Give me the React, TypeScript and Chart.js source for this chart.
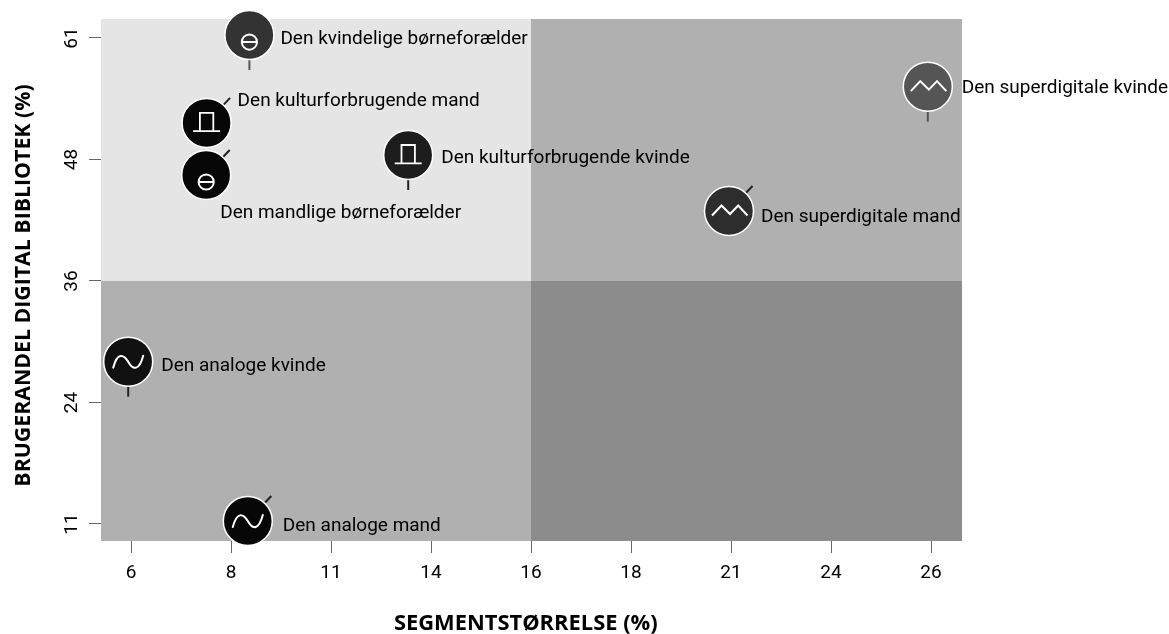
import React, { useEffect, useRef } from "react";
import { Chart, registerables } from "chart.js";

Chart.register(...registerables);

const segments = [
  "Den kvindelige børneforælder",
  "Den kulturforbrugende mand",
  "Den mandlige børneforælder",
  "Den kulturforbrugende kvinde",
  "Den superdigitale kvinde",
  "Den superdigitale mand",
  "Den analoge kvinde",
  "Den analoge mand",
];
const segmentSize = [8.96, 7.89, 7.88, 12.93, 25.92, 20.95, 5.93, 8.92];
const digitalShare = [61.3, 52.26, 46.9, 48.96, 55.99, 43.2, 27.7, 11.31];
const glyphs = ["minus", "hat", "minus", "hat", "zigzag", "zigzag", "sine", "sine"];
const leaders = ["down", "diag", "diag", "down", "down", "diag", "down", "diag"];
const fills = ["#333333", "#070707", "#070707", "#1d1d1d", "#555555", "#2d2d2d", "#111111", "#070707"];
const xTickValues = [6, 8.5, 11, 13.5, 16, 18.5, 21, 23.5, 26];
const xTickLabels = ["6", "8", "11", "14", "16", "18", "21", "24", "26"];
const yTickValues = [11, 23.5, 36, 48.5, 61];
const yTickLabels = ["11", "24", "36", "48", "61"];
const xSplit = 16;
const ySplit = 36;

const labelOffsets = [
  [31, 4], [31, -22], [14, 38], [33, 3], [34, 2], [32, 6], [33, 5], [35, 5],
];

const FONT = "Roboto, sans-serif";
const TITLE_FONT = "'Open Sans', sans-serif";

function drawGlyph(ctx: CanvasRenderingContext2D, kind: string, x: number, y: number) {
  ctx.save();
  ctx.translate(x, y);
  ctx.strokeStyle = "#ffffff";
  ctx.lineWidth = 1.8;
  ctx.lineJoin = "miter";
  ctx.beginPath();
  if (kind === "hat") {
    ctx.moveTo(-13.5, 8.3);
    ctx.lineTo(13.5, 8.3);
    ctx.moveTo(-6.7, 8.3);
    ctx.lineTo(-6.7, -10);
    ctx.lineTo(6.7, -10);
    ctx.lineTo(6.7, 8.3);
  } else if (kind === "minus") {
    ctx.lineWidth = 2;
    ctx.arc(0, 7, 7.6, 0, Math.PI * 2);
    ctx.moveTo(-7.6, 7);
    ctx.lineTo(7.6, 7);
  } else if (kind === "zigzag") {
    ctx.lineWidth = 2;
    ctx.moveTo(-17, 4.5);
    ctx.lineTo(-7.5, -5.5);
    ctx.lineTo(1, 3);
    ctx.lineTo(9.2, -5.5);
    ctx.lineTo(18.5, 4.5);
  } else {
    ctx.lineWidth = 2;
    ctx.lineCap = "round";
    ctx.moveTo(-15, 6);
    ctx.bezierCurveTo(-11, -9, -5, -8, 0, 0);
    ctx.bezierCurveTo(5, 9, 11, 9, 15, -6);
  }
  ctx.stroke();
  ctx.restore();
}

const quadrantPlugin = {
  id: "quadrants",
  beforeDraw(chart: any) {
    const { ctx, chartArea: a, scales } = chart;
    const mx = scales.x.getPixelForValue(xSplit);
    const my = scales.y.getPixelForValue(ySplit);
    ctx.save();
    ctx.fillStyle = "#e5e5e5";
    ctx.fillRect(a.left, a.top, mx - a.left, my - a.top);
    ctx.fillStyle = "#b0b0b0";
    ctx.fillRect(mx, a.top, a.right - mx, my - a.top);
    ctx.fillRect(a.left, my, mx - a.left, a.bottom - my);
    ctx.fillStyle = "#8c8c8c";
    ctx.fillRect(mx, my, a.right - mx, a.bottom - my);
    ctx.restore();
  },
  beforeDatasetsDraw(chart: any) {
    const { ctx } = chart;
    const pts = chart.getDatasetMeta(0).data;
    ctx.save();
    pts.forEach((p: any, i: number) => {
      ctx.strokeStyle = fills[i] === "#555555" || fills[i] === "#333333" ? "#555555" : "#222222";
      ctx.lineWidth = 2;
      ctx.beginPath();
      if (leaders[i] === "down") {
        ctx.moveTo(p.x, p.y + 20);
        ctx.lineTo(p.x, p.y + 35);
      } else {
        ctx.moveTo(p.x + 14, p.y - 15);
        ctx.lineTo(p.x + 23.5, p.y - 25);
      }
      ctx.stroke();
    });
    ctx.restore();
  },
  afterDatasetsDraw(chart: any) {
    const { ctx } = chart;
    const pts = chart.getDatasetMeta(0).data;
    ctx.save();
    ctx.fillStyle = "#000000";
    ctx.font = `19px ${FONT}`;
    ctx.textAlign = "left";
    ctx.textBaseline = "middle";
    pts.forEach((p: any, i: number) => {
      drawGlyph(ctx, glyphs[i], p.x, p.y);
      ctx.fillText(segments[i], p.x + labelOffsets[i][0], p.y + labelOffsets[i][1]);
    });
    ctx.restore();
  },
};

export default function App() {
  const ref = useRef<HTMLCanvasElement>(null);
  useEffect(() => {
    document.body.style.margin = "0";
    const chart = new Chart(ref.current!, {
      type: "scatter",
      data: {
        labels: segments,
        datasets: [
          {
            label: "Segmenter",
            data: segmentSize.map((x, i) => ({ x, y: digitalShare[i] })),
            backgroundColor: fills,
            borderColor: "#ffffff",
            borderWidth: 1.5,
            pointRadius: 24.5,
            pointHoverRadius: 24.5,
            clip: false as any,
          },
        ],
      },
      options: {
        responsive: false,
        animation: false,
        events: [],
        layout: { autoPadding: false, padding: { top: 19, right: 207, left: 0, bottom: 0 } },
        plugins: { legend: { display: false }, tooltip: { enabled: false } },
        scales: {
          x: {
            type: "linear",
            min: 5.25,
            max: 26.775,
            afterBuildTicks(s: any) {
              s.ticks = xTickValues.map((value) => ({ value }));
            },
            afterFit(s: any) {
              s.height = 93;
            },
            border: { display: false },
            grid: { drawOnChartArea: false, drawTicks: true, tickLength: 12, color: "#666666" },
            ticks: {
              autoSkip: false,
              maxRotation: 0,
              padding: 9,
              color: "#000000",
              font: { family: FONT, size: 19 },
              callback: (_v: any, i: number) => xTickLabels[i],
            },
            title: {
              display: true,
              text: "SEGMENTSTØRRELSE (%)  ",
              color: "#000000",
              font: { family: TITLE_FONT, size: 21.9, weight: "bold" },
              padding: { top: 0, bottom: -3 },
            },
          },
          y: {
            type: "linear",
            min: 9.25,
            max: 62.95,
            afterBuildTicks(s: any) {
              s.ticks = yTickValues.map((value) => ({ value }));
            },
            afterFit(s: any) {
              s.width = 101;
            },
            border: { display: false },
            grid: { drawOnChartArea: false, drawTicks: true, tickLength: 12, color: "#666666" },
            ticks: {
              autoSkip: false,
              minRotation: 90,
              maxRotation: 90,
              crossAlign: "center",
              padding: 6,
              color: "#000000",
              font: { family: FONT, size: 19 },
              callback: (_v: any, i: number) => yTickLabels[i],
            },
            title: {
              display: true,
              text: "BRUGERANDEL DIGITAL BIBLIOTEK (%)  ",
              color: "#000000",
              font: { family: TITLE_FONT, size: 21.3, weight: "bold" },
              padding: { top: 11, bottom: 0 },
            },
          },
        },
      },
      plugins: [quadrantPlugin],
    } as any);
    return () => chart.destroy();
  }, []);
  return <canvas ref={ref} width={1169} height={634} style={{ display: "block" }} />;
}
